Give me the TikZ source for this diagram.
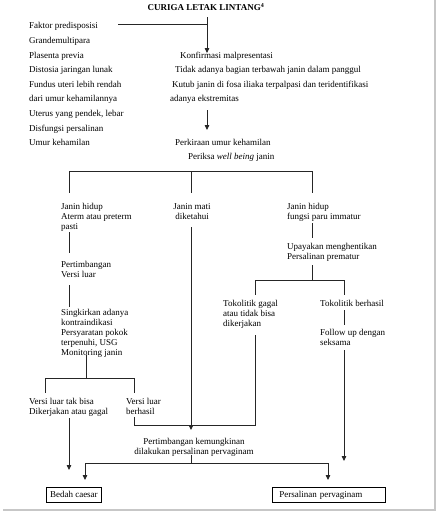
\documentclass[tikz,border=0pt]{standalone}
\usepackage{fontspec}
\setmainfont{Liberation Serif}
\usetikzlibrary{arrows.meta}
\begin{document}
\begin{tikzpicture}[x=1pt,y=-1pt,
  txt/.style={inner sep=0pt, anchor=north west, align=left, font=\fontsize{9}{10}\selectfont},
  ln/.style={line width=0.75pt, black!85},
  arr/.style={ln, -{Triangle[length=5pt,width=4.5pt]}},
  boxn/.style={draw, line width=0.75pt, inner ysep=0pt, minimum height=15pt, anchor=north west, font=\fontsize{9}{10}\selectfont}]
\useasboundingbox (0,0) rectangle (438,512);
\fill[white] (0,0) rectangle (438,512);
\draw[black!22, line width=1.6pt] (435,0) -- (435,510) -- (3,510);

% texts
\node[txt, font=\bfseries\fontsize{9}{10}\selectfont, anchor=north] (title) at (206,3) {CURIGA LETAK LINTANG\textsuperscript{4}};
\node[txt, font=\fontsize{9}{14.6}\selectfont] (faktor) at (29,22.5) {Faktor predisposisi\\Grandemultipara\\Plasenta previa\\Distosia jaringan lunak\\Fundus uteri lebih rendah\\dari umur kehamilannya\\Uterus yang pendek, lebar\\Disfungsi persalinan\\Umur kehamilan};
\node[txt] (konf) at (180,51.5) {Konfirmasi malpresentasi};
\node[txt] (tidak) at (175,66.5) {Tidak adanya bagian terbawah janin dalam panggul};
\node[txt] (kutub) at (172,80.5) {Kutub janin di fosa iliaka terpalpasi dan teridentifikasi};
\node[txt] (ekst) at (170,95.5) {adanya ekstremitas};
\node[txt] (perk) at (175,139.5) {Perkiraan umur kehamilan};
\node[txt] (periksa) at (188,153.5) {Periksa \textit{well being} janin};
\node[txt] (jh1) at (61,203.5) {Janin hidup\\Aterm atau preterm\\pasti};
\node[txt, anchor=north, align=center] (jm) at (192,203.5) {Janin mati\\diketahui};
\node[txt] (jh2) at (287,203.5) {Janin hidup\\fungsi paru immatur};
\node[txt] (pv) at (61,261.5) {Pertimbangan\\Versi luar};
\node[txt] (up) at (287,243.5) {Upayakan menghentikan\\Persalinan prematur};
\node[txt] (sk) at (61,309.5) {Singkirkan adanya\\kontraindikasi\\Persyaratan pokok\\terpenuhi, USG\\Monitoring janin};
\node[txt] (tg) at (223,300.5) {Tokolitik gagal\\atau tidak bisa\\dikerjakan};
\node[txt] (tb) at (320,300.5) {Tokolitik berhasil};
\node[txt] (fu) at (320,329.5) {Follow up dengan\\seksama};
\node[txt] (vg) at (29,398.5) {Versi luar tak bisa\\Dikerjakan atau gagal};
\node[txt] (vb) at (126,398.5) {Versi luar\\berhasil};
\node[txt, anchor=north, align=center] (pk) at (194,438.5) {Pertimbangan kemungkinan\\dilakukan persalinan pervaginam};
\node[boxn, minimum width=55pt] (bc) at (46,487) {Bedah caesar};
\node[boxn, text width=99pt, inner xsep=7pt, align=left] (pp) at (272,487) {Persalinan pervaginam};

% connector points
\coordinate (a0) at (207,17); \coordinate (a1) at (118,24); \coordinate (a2) at (207,24); \coordinate (a3) at (207,53);
\coordinate (b0) at (207,110); \coordinate (b1) at (207,130);
\coordinate (c1) at (69,171); \coordinate (c2) at (191,171); \coordinate (c3) at (312,171);
\coordinate (c1d) at (69,193); \coordinate (c2d) at (191,193); \coordinate (c3d) at (312,193);
\coordinate (m0) at (191,227); \coordinate (m1) at (191,430);
\coordinate (l1) at (69,232); \coordinate (l2) at (69,253);
\coordinate (l3) at (69,285); \coordinate (l4) at (69,307);
\coordinate (l5) at (86,355); \coordinate (l6) at (86,378);
\coordinate (l7) at (45,378); \coordinate (l8) at (134,378);
\coordinate (l7d) at (45,393); \coordinate (l8d) at (134,393);
\coordinate (l9) at (134,417); \coordinate (l10) at (134,425); \coordinate (l11) at (255,425);
\coordinate (l12) at (69,418); \coordinate (l13) at (69,470);
\coordinate (r1) at (312,223); \coordinate (r2) at (312,238);
\coordinate (r3) at (312,265); \coordinate (r4) at (312,280);
\coordinate (r5) at (255,280); \coordinate (r6) at (344,280);
\coordinate (r5d) at (255,295); \coordinate (r6d) at (344,295);
\coordinate (r7) at (255,335);
\coordinate (r8) at (344,310); \coordinate (r9) at (344,325);
\coordinate (r10) at (344,350); \coordinate (r11) at (344,461);
\coordinate (d0) at (191,455); \coordinate (d1) at (191,463);
\coordinate (d2) at (85,463); \coordinate (d3) at (328,463);
\coordinate (d2d) at (85,480); \coordinate (d3d) at (328,480);

% connectors
\draw[ln] (a1) -- (a2);
\draw[arr] (a0) -- (a3);
\draw[arr] (b0) -- (b1);
\draw[ln] (c1) -- (c3);
\draw[ln] (c1) -- (c1d);
\draw[ln] (c2) -- (c2d);
\draw[ln] (c3) -- (c3d);
\draw[arr] (m0) -- (m1);
\draw[ln] (l1) -- (l2);
\draw[ln] (l3) -- (l4);
\draw[ln] (l5) -- (l6);
\draw[ln] (l7) -- (l8);
\draw[ln] (l7) -- (l7d);
\draw[ln] (l8) -- (l8d);
\draw[ln] (l9) -- (l10) -- (l11) -- (r7);
\draw[arr] (l12) -- (l13);
\draw[ln] (r1) -- (r2);
\draw[ln] (r3) -- (r4);
\draw[ln] (r5) -- (r6);
\draw[ln] (r5) -- (r5d);
\draw[ln] (r6) -- (r6d);
\draw[ln] (r8) -- (r9);
\draw[arr] (r10) -- (r11);
\draw[ln] (d0) -- (d1);
\draw[ln] (d2) -- (d3);
\draw[arr] (d2) -- (d2d);
\draw[arr] (d3) -- (d3d);
\end{tikzpicture}
\end{document}
